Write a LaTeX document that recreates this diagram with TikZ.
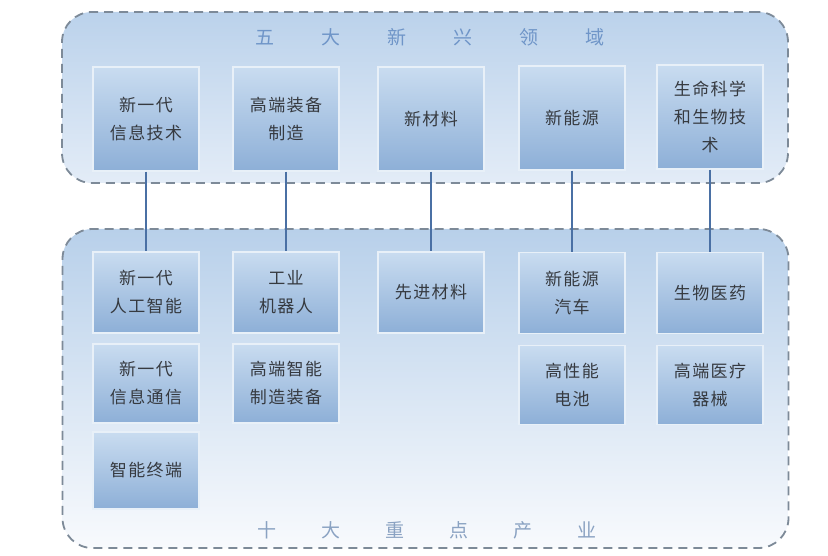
\documentclass[tikz,border=0pt]{standalone}
\usepackage{fontspec}
\newfontfamily\cjk[LetterSpace=8]{Noto Sans CJK SC}
\newfontfamily\cjktitle{Noto Sans CJK SC}
\definecolor{boxtop}{HTML}{C9DCF0}
\definecolor{boxbot}{HTML}{8DAFD7}
\definecolor{boxedge}{HTML}{E8F0F8}
\definecolor{dashgray}{HTML}{7D8A98}
\definecolor{linkblue}{HTML}{4A70A4}
\definecolor{textgray}{HTML}{363A40}
\definecolor{titleblue}{HTML}{6F95C8}
\definecolor{titlegray}{HTML}{8AA2C2}
\definecolor{ctoptop}{HTML}{BBD2EB}
\definecolor{ctopmid}{HTML}{CBDCEF}
\definecolor{ctopbot}{HTML}{E3ECF7}
\definecolor{cbottop}{HTML}{B8D0EA}
\definecolor{cbotmid}{HTML}{D1E0F1}
\definecolor{cbotbot}{HTML}{F8FAFD}
\begin{document}
\begin{tikzpicture}[x=1pt,y=-1pt,
  container/.style={draw=dashgray, line width=1.8pt, dash pattern=on 9pt off 6pt,
    rounded corners=30pt, minimum width=726pt, inner sep=0pt},
  boxnode/.style={rectangle, draw=boxedge, line width=1.2pt, top color=boxtop,
    bottom color=boxbot, minimum width=106pt, text=textgray,
    font=\cjk\fontsize{17}{28}\selectfont, align=center, inner sep=0pt},
  titletext/.style={font=\cjktitle\fontsize{19}{20}\selectfont, inner sep=0pt},
  link/.style={draw=linkblue, line width=2pt}]
\useasboundingbox (0,0) rectangle (828,556);
\fill[white] (0,0) rectangle (828,556);
% containers
\node[container, minimum height=171pt, top color=ctoptop, middle color=ctopmid, bottom color=ctopbot] (ctop) at (425,97.5) {};
\node[container, minimum height=319pt, top color=cbottop, middle color=cbotmid, bottom color=cbotbot] (cbot) at (425.5,388.5) {};
% titles
\node[titletext, text=titleblue] (ttop) at (430,37) {五\hspace{47pt}大\hspace{47pt}新\hspace{47pt}兴\hspace{47pt}领\hspace{47pt}域};
\node[titletext, text=titlegray] (tbot) at (427,530) {十\hspace{45pt}大\hspace{45pt}重\hspace{45pt}点\hspace{45pt}产\hspace{45pt}业};
% top boxes
\node[boxnode, minimum height=104pt] (t1) at (146,119) {新一代\\信息技术};
\node[boxnode, minimum height=104pt] (t2) at (286,119) {高端装备\\制造};
\node[boxnode, minimum height=104pt] (t3) at (431,119) {新材料};
\node[boxnode, minimum height=104pt] (t4) at (572,118) {新能源};
\node[boxnode, minimum height=104pt] (t5) at (710,117) {生命科学\\和生物技\\术};
% bottom boxes row 1
\node[boxnode, minimum height=81pt] (b1) at (146,292.5) {新一代\\人工智能};
\node[boxnode, minimum height=81pt] (b2) at (286,292.5) {工业\\机器人};
\node[boxnode, minimum height=81pt] (b3) at (431,292.5) {先进材料};
\node[boxnode, minimum height=81pt] (b4) at (572,293) {新能源\\汽车};
\node[boxnode, minimum height=81pt] (b5) at (710,293) {生物医药};
% row 2
\node[boxnode, minimum height=79pt] (c1) at (146,383.5) {新一代\\信息通信};
\node[boxnode, minimum height=79pt] (c2) at (286,383.5) {高端智能\\制造装备};
\node[boxnode, minimum height=79pt] (c4) at (572,385) {高性能\\电池};
\node[boxnode, minimum height=79pt] (c5) at (710,385) {高端医疗\\器械};
% row 3
\node[boxnode, minimum height=77pt] (d1) at (146,470.5) {智能终端};
% links
\draw[link] (t1.south) -- (b1.north);
\draw[link] (t2.south) -- (b2.north);
\draw[link] (t3.south) -- (b3.north);
\draw[link] (t4.south) -- (b4.north);
\draw[link] (t5.south) -- (b5.north);
\end{tikzpicture}
\end{document}
